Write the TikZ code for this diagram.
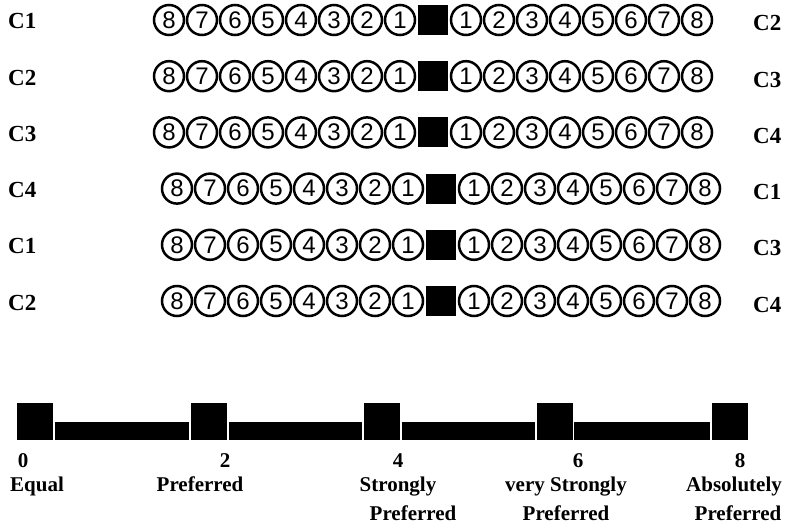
\documentclass[tikz,border=0pt]{standalone}
\usepackage{fontspec}
\setmainfont{Liberation Serif}
\newfontfamily\digitfont{Liberation Sans}
\usetikzlibrary{positioning}

\begin{document}
\begin{tikzpicture}[x=1pt,y=-1pt,
    crit/.style={font=\bfseries\fontsize{23}{23}\selectfont,anchor=base west,inner sep=0pt},
    ring/.style={draw,circle,line width=2.5pt,minimum size=30pt,inner sep=0pt,
      font=\digitfont\fontsize{24}{24}\selectfont},
    mid/.style={fill=black,minimum width=30pt,minimum height=30pt,inner sep=0pt},
    tick/.style={fill=black,minimum width=36pt,minimum height=37pt,inner sep=0pt},
    lab/.style={font=\bfseries\fontsize{21}{21}\selectfont,anchor=base,inner sep=0pt}]
  \useasboundingbox (0,0) rectangle (787,524);
  % Pairwise comparison rows
  \foreach \row/\lft/\rgt/\cx in {1/C1/C2/433,2/C2/C3/433,3/C3/C4/433,
                                  4/C4/C1/441,5/C1/C3/441,6/C2/C4/441}{
    \pgfmathsetmacro\cy{20+56.2*(\row-1)}
    \node[mid] (m\row) at (\cx,\cy) {};
    \foreach \k in {1,...,8}{
      \node[ring] (l\row-\k) at (\cx-33*\k,\cy) {\k};
      \node[ring] (r\row-\k) at (\cx+33*\k,\cy) {\k};
    }
    \node[crit] (a\row) at (8,\cy+9) {\lft};
    \node[crit] (b\row) at (753,\cy+11) {\rgt};
  }
  % Intensity scale
  \foreach \i/\x in {0/35,2/209,4/382,6/554.5,8/730}
    \node[tick] (s\i) at (\x,421.5) {};
  \foreach \p/\q in {0/2,2/4,4/6,6/8}
    \fill ([xshift=1.5pt]s\p.south east) rectangle ([xshift=-1.5pt,yshift=18pt]s\q.south west);
  % Scale labels
  \node[lab] (n0) at (23,467) {0};
  \node[lab] (n2) at (225,467) {2};
  \node[lab] (n4) at (398,467) {4};
  \node[lab] (n6) at (578,467) {6};
  \node[lab] (n8) at (740,467) {8};
  \node[lab] (t0) at (37,491) {Equal};
  \node[lab] (t2) at (200,491) {Preferred};
  \node[lab] (t4) at (398,491) {Strongly};
  \node[lab] (u4) at (413,520) {Preferred};
  \node[lab] (t6) at (566,491) {very Strongly};
  \node[lab] (u6) at (566,520) {Preferred};
  \node[lab] (t8) at (734,491) {Absolutely};
  \node[lab] (u8) at (738,520) {Preferred};
\end{tikzpicture}
\end{document}
